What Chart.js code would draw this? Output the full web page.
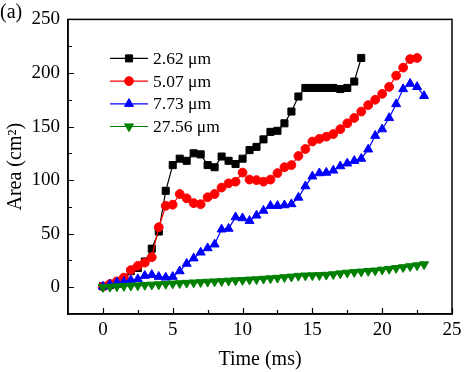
<!DOCTYPE html>
<html>
<head>
<meta charset="utf-8">
<title>Area vs time</title>
<script src="https://cdn.jsdelivr.net/npm/chart.js"></script>
<style>
  html, body { margin: 0; padding: 0; background: #fff; }
  canvas { display: block; }
</style>
</head>
<body>
<canvas id="area-chart" width="474" height="372"></canvas>
<script>
// --- DATA ---
const time = [0, 0.5, 1, 1.5, 2, 2.5, 3, 3.5, 4, 4.5, 5, 5.5, 6, 6.5, 7, 7.5, 8, 8.5, 9, 9.5,
    10, 10.5, 11, 11.5, 12, 12.5, 13, 13.5, 14, 14.5, 15, 15.5, 16, 16.5, 17, 17.5, 18, 18.5,
    19, 19.5, 20, 20.5, 21, 21.5, 22, 22.5, 23];

const area262 = [1, 2, 3, 6, 15, 18, 24, 36, 52, 90, 114, 120, 118, 125, 124, 114, 112, 122, 118, 115,
    120, 128, 131, 138, 145, 146, 153, 164, 178, 186, 186, 186, 186, 186, 185, 186, 192, 214];

const area507 = [0.6, 3, 5.5, 9, 16, 20, 23, 28, 56, 76, 77, 87, 83, 78.5, 77.5, 84, 87, 93, 97, 98.5,
    107, 100.5, 100, 98.5, 100.5, 106.5, 112, 114, 122.5, 129, 136, 138.5, 140.5, 143, 147.5, 153,
    158, 164, 170, 175, 180.5, 187, 197.5, 205, 213, 214];

const area773 = [0.6, 2.5, 4.5, 5, 6.7, 7.6, 10.7, 11.6, 9.8, 9.1, 9.8, 15, 22, 27, 32.5, 36.5, 40, 54,
    54.7, 65.4, 64.5, 62, 67, 71.5, 76, 76, 76.6, 77.6, 83.7, 94.3, 103.5, 106.5, 107, 109, 113,
    115.6, 118, 120, 128.7, 141.4, 147.5, 158, 171, 185, 190, 187, 178.6];

const area2756 = [0, 0.3, 0.7, 1, 1.3, 1.6, 2, 2.3, 2.6, 3, 3.3, 3.6, 4, 4.3, 4.6, 5, 5.3, 5.6, 6, 6.3,
    6.6, 7, 7.3, 7.8, 8.2, 8.7, 9.2, 9.8, 10.5, 10.8, 11, 11.2, 11.5, 12, 12.8, 13.5, 14, 14.5,
    15, 15.5, 16.3, 17, 17.8, 18.6, 19.5, 20.3, 21.3];

const seriesLabels = ['2.62 \u03bcm', '5.07 \u03bcm', '7.73 \u03bcm', '27.56 \u03bcm'];
const xTickLabels = [0, 5, 10, 15, 20, 25];
const yTickLabels = [0, 50, 100, 150, 200, 250];
const xTitle = 'Time (ms)';
const yTitle = 'Area (cm\u00b2)';

const FONT = "'Liberation Serif', 'Times New Roman', serif";

function toPoints(values) {
    return values.map((v, i) => ({ x: time[i], y: v }));
}

// --- PLUGIN: frame, inward ticks, axis titles, panel label, legend ---
const framePlugin = {
    id: 'frame',
    afterDraw(chart) {
        const ctx = chart.ctx;
        const area = chart.chartArea;
        const xs = chart.scales.x;
        const ys = chart.scales.y;

        ctx.save();
        ctx.strokeStyle = '#000';
        ctx.lineWidth = 1.5;
        ctx.strokeRect(area.left, area.top, area.right - area.left, area.bottom - area.top);

        // inward ticks, major on labelled values
        ctx.lineWidth = 1.2;
        ctx.beginPath();
        for (let v = 0; v <= 25; v += 2.5) {
            const px = Math.round(xs.getPixelForValue(v)) + 0.5;
            const len = xTickLabels.includes(v) ? 6 : 4;
            ctx.moveTo(px, area.bottom);
            ctx.lineTo(px, area.bottom - len);
        }
        for (let v = 0; v <= 250; v += 25) {
            const py = Math.round(ys.getPixelForValue(v)) + 0.5;
            const len = yTickLabels.includes(v) ? 6 : 4;
            ctx.moveTo(area.left, py);
            ctx.lineTo(area.left + len, py);
        }
        ctx.stroke();

        // axis titles
        ctx.fillStyle = '#000';
        ctx.font = 'normal 20px ' + FONT;
        ctx.textAlign = 'center';
        ctx.textBaseline = 'middle';
        ctx.fillText(xTitle, (area.left + area.right) / 2, 360);
        ctx.save();
        ctx.translate(16, (area.top + area.bottom) / 2);
        ctx.rotate(-Math.PI / 2);
        ctx.fillText(yTitle, 0, 0);
        ctx.restore();

        // panel label
        ctx.font = 'normal 20px ' + FONT;
        ctx.textAlign = 'left';
        ctx.fillText('(a)', 0, 13);

        // legend
        ctx.font = 'normal 17.5px ' + FONT;
        chart.data.datasets.forEach((ds, i) => {
            const y = area.top + 39 + i * 22.7;
            const x0 = area.left + 42;
            ctx.strokeStyle = ds.borderColor;
            ctx.lineWidth = 1.2;
            ctx.beginPath();
            ctx.moveTo(x0, y);
            ctx.lineTo(x0 + 38, y);
            ctx.stroke();
            ctx.fillStyle = ds.pointBackgroundColor;
            ctx.strokeStyle = ds.borderColor;
            ctx.lineWidth = 1;
            Chart.helpers.drawPoint(ctx, {
                pointStyle: ds.pointStyle,
                radius: ds.pointRadius,
                rotation: ds.pointRotation || 0,
                borderWidth: 1
            }, x0 + 19, y);
            ctx.fillStyle = '#000';
            ctx.fillText(ds.label, x0 + 43, y + 1);
        });
        ctx.restore();
    }
};

// --- CHART ---
const ctx = document.getElementById('area-chart').getContext('2d');

new Chart(ctx, {
    type: 'line',
    data: {
        datasets: [
            {
                label: seriesLabels[0],
                data: toPoints(area262),
                borderColor: '#000000',
                pointBackgroundColor: '#000000',
                pointStyle: 'rect',
                pointRadius: 5,
                order: 3
            },
            {
                label: seriesLabels[1],
                data: toPoints(area507),
                borderColor: '#ff0000',
                pointBackgroundColor: '#ff0000',
                pointStyle: 'circle',
                pointRadius: 4.4,
                order: 2
            },
            {
                label: seriesLabels[2],
                data: toPoints(area773),
                borderColor: '#0000ff',
                pointBackgroundColor: '#0000ff',
                pointStyle: 'triangle',
                pointRadius: 5.2,
                order: 1
            },
            {
                label: seriesLabels[3],
                data: toPoints(area2756),
                borderColor: '#008000',
                pointBackgroundColor: '#008000',
                pointStyle: 'triangle',
                pointRotation: 180,
                pointRadius: 5.2,
                order: 0
            }
        ]
    },
    options: {
        responsive: false,
        devicePixelRatio: 1,
        animation: false,
        layout: { padding: { top: 13, right: 22, left: 0, bottom: 0 } },
        elements: {
            line: { borderWidth: 1.2, tension: 0 },
            point: { borderWidth: 1 }
        },
        plugins: {
            legend: { display: false },
            tooltip: { enabled: false }
        },
        scales: {
            x: {
                type: 'linear',
                min: -2.5,
                max: 25,
                afterFit: s => { s.height = 58; },
                ticks: {
                    stepSize: 2.5,
                    autoSkip: false,
                    maxRotation: 0,
                    padding: 5,
                    color: '#000',
                    font: { family: FONT, size: 19 },
                    callback: v => xTickLabels.includes(v) ? v : ''
                },
                grid: { drawOnChartArea: false, drawTicks: false },
                border: { color: '#000', width: 1.5 }
            },
            y: {
                min: -25,
                max: 250,
                afterFit: s => { s.width = 68; },
                ticks: {
                    stepSize: 25,
                    autoSkip: false,
                    padding: 8,
                    color: '#000',
                    font: { family: FONT, size: 19 },
                    callback: v => yTickLabels.includes(v) ? v : ''
                },
                grid: { drawOnChartArea: false, drawTicks: false },
                border: { color: '#000', width: 1.5 }
            }
        }
    },
    plugins: [framePlugin]
});
</script>
</body>
</html>
